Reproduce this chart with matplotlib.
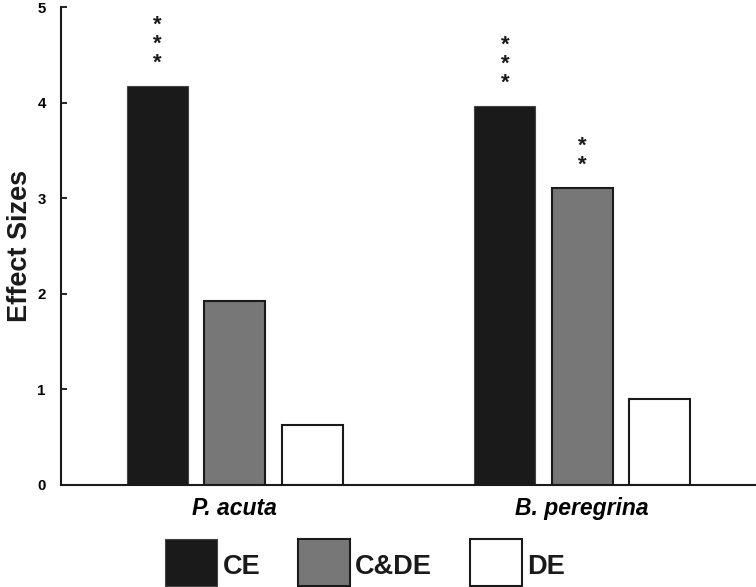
import matplotlib
matplotlib.use("Agg")
import matplotlib.pyplot as plt
from matplotlib.transforms import Affine2D
import numpy as np

plt.rcParams['font.family'] = ['Liberation Sans', 'DejaVu Sans']

species = ["P. acuta", "B. peregrina"]
series = ["CE", "C&DE", "DE"]
ce = [4.18, 3.97]
cde = [1.93, 3.11]
de = [0.63, 0.90]
stars_ce = ["***", "***"]
stars_cde = ["", "**"]
stars_de = ["", ""]
yticks = [0, 1, 2, 3, 4, 5]

fills = ["#1a1a1a", "#777777", "#ffffff"]
edges = ["#444444", "#1a1a1a", "#1a1a1a"]
lws = [0.8, 1.5, 1.5]

W, H = 756, 587
fig = plt.figure(figsize=(W / 100, H / 100), dpi=100)
ax = fig.add_axes([61 / W, 1 - 485 / H, (W - 61) / W, (485 - 7.4) / H])

x = np.arange(len(species))
spacing = 0.2227
width = 0.1756
values = [ce, cde, de]
stars = [stars_ce, stars_cde, stars_de]
handles = []
for i, (vals, st) in enumerate(zip(values, stars)):
    pos = x + (i - 1) * spacing
    b = ax.bar(pos, vals, width, color=fills[i], edgecolor=edges[i],
               linewidth=lws[i], label=series[i], zorder=2)
    handles.append(b)
    for p, v, s in zip(pos, vals, st):
        for k in range(len(s)):
            ax.annotate("*", (p, v), xytext=(0, 12.3 + k * 13.7),
                        textcoords="offset points", ha="center",
                        va="baseline", fontsize=16, fontweight="bold",
                        color="#1a1a1a")

ax.set_xlim(-0.5, 1.5)
ax.set_ylim(0, 5)
ax.set_yticks(yticks)
ax.set_yticklabels([str(t) for t in yticks], fontsize=10.8, fontweight="bold")
ax.set_xticks(x)
ax.set_xticklabels(species, fontsize=16.5, fontweight="bold", style="italic")
ax.tick_params(axis="x", length=0, pad=8.5)
ax.tick_params(axis="y", direction="in", length=4, width=1.2, pad=11)
for side in ["top", "right"]:
    ax.spines[side].set_visible(False)
for side in ["left", "bottom"]:
    ax.spines[side].set_linewidth(1.5)
    ax.spines[side].set_color("#1a1a1a")

fig.text(20 / W, 1 - 246 / H, "Effect Sizes", rotation=90, ha="center",
         va="center", fontsize=19.5, fontweight="bold", color="#1a1a1a")

leg = fig.legend(handles=handles, labels=series, loc="lower left",
                 bbox_to_anchor=(165 / W, 1 / H), ncol=3, frameon=False,
                 handlelength=1.92, handleheight=2.29,
                 handletextpad=0.2, columnspacing=1.4, borderpad=0,
                 borderaxespad=0, prop={"weight": "bold", "size": 19.5})
for t in leg.get_texts():
    t.set_color("#1a1a1a")
    t.set_transform(t.get_transform() + Affine2D().translate(0, -3))

fig.savefig("out.png", dpi=100)
